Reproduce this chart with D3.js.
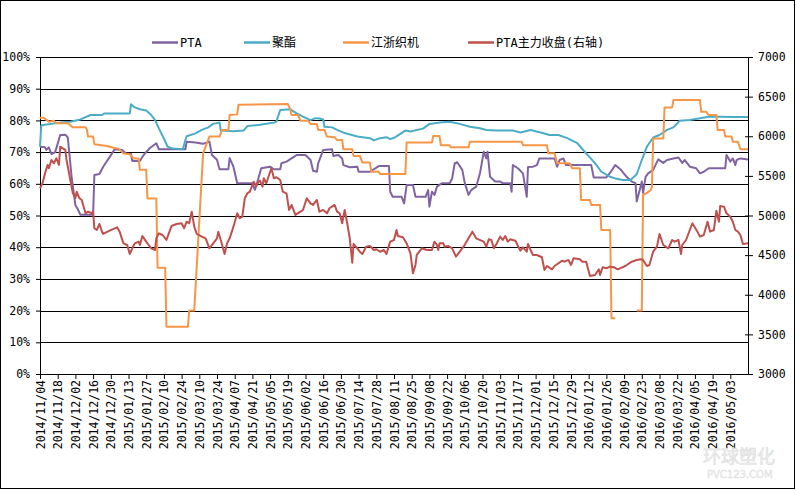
<!DOCTYPE html>
<html>
<head>
<meta charset="utf-8">
<script src="https://cdn.jsdelivr.net/npm/d3@7"></script>
<style>
body { margin: 0; background: #fff; }
svg text { font-family: "DejaVu Sans Mono", "Noto Sans CJK SC", monospace; font-size: 11.5px; fill: #000; }
</style>
</head>
<body>
<script>
var svgWidth = 796, svgHeight = 491;
var margin = {top: 57, right: 48, bottom: 117, left: 40};
var width = svgWidth - margin.left - margin.right,
    height = svgHeight - margin.top - margin.bottom;

var seriesNames = ["PTA", "聚酯", "江浙织机", "PTA主力收盘(右轴)"];
var seriesColors = ["#8064A2", "#4BACC6", "#F79646", "#C0504D"];

var tickLabels = ["2014/11/04","2014/11/18","2014/12/02","2014/12/16","2014/12/30","2015/01/13","2015/01/27","2015/02/10","2015/02/24","2015/03/10","2015/03/24","2015/04/07","2015/04/21","2015/05/05","2015/05/19","2015/06/02","2015/06/16","2015/06/30","2015/07/14","2015/07/28","2015/08/11","2015/08/25","2015/09/08","2015/09/22","2015/10/06","2015/10/20","2015/11/03","2015/11/17","2015/12/01","2015/12/15","2015/12/29","2016/01/12","2016/01/26","2016/02/09","2016/02/23","2016/03/08","2016/03/22","2016/04/05","2016/04/19","2016/05/03"];
var dateRange = ["2014/11/04", "2016/05/17"];
var pctTicks = [0,10,20,30,40,50,60,70,80,90,100];
var priceTicks = [3000,3500,4000,4500,5000,5500,6000,6500,7000];

// PTA (left axis, %)
var ptaData = [["2014-11-04",71.7],["2014-11-08",71.5],["2014-11-09",70.7],["2014-11-11",71.5],["2014-11-13",69.4],["2014-11-16",70.0],["2014-11-20",75.4],["2014-11-24",75.5],["2014-11-26",74.6],["2014-11-29",62.2],["2014-12-02",53.3],["2014-12-04",51.9],["2014-12-06",50.2],["2014-12-16",50.2],["2014-12-17",62.8],["2014-12-21",63.1],["2014-12-24",65.4],["2014-12-31",69.6],["2015-01-02",70.9],["2015-01-08",70.7],["2015-01-11",69.6],["2015-01-15",69.4],["2015-01-16",67.2],["2015-01-22",67.2],["2015-01-25",69.1],["2015-01-30",71.3],["2015-02-04",72.8],["2015-02-06",70.9],["2015-02-27",70.9],["2015-02-28",73.3],["2015-03-07",73.0],["2015-03-13",72.6],["2015-03-18",73.3],["2015-03-20",69.1],["2015-03-24",67.6],["2015-03-26",64.6],["2015-04-02",64.6],["2015-04-03",68.1],["2015-04-06",65.4],["2015-04-09",60.2],["2015-04-21",60.2],["2015-04-23",58.1],["2015-04-25",60.7],["2015-04-28",64.9],["2015-05-05",65.4],["2015-05-08",64.6],["2015-05-13",64.6],["2015-05-14",66.5],["2015-05-18",67.0],["2015-05-22",68.0],["2015-05-26",69.1],["2015-06-02",69.1],["2015-06-06",67.5],["2015-06-08",64.1],["2015-06-11",63.8],["2015-06-12",66.4],["2015-06-16",70.7],["2015-06-23",70.9],["2015-06-24",68.8],["2015-06-28",69.1],["2015-07-01",68.0],["2015-07-02",65.9],["2015-07-07",65.2],["2015-07-13",65.4],["2015-07-14",63.8],["2015-07-23",63.8],["2015-07-30",65.6],["2015-08-07",65.6],["2015-08-08",57.5],["2015-08-10",55.9],["2015-08-17",55.9],["2015-08-19",53.8],["2015-08-21",59.6],["2015-08-26",59.6],["2015-08-28",55.9],["2015-09-05",55.9],["2015-09-07",58.0],["2015-09-08",52.8],["2015-09-10",57.5],["2015-09-12",56.5],["2015-09-14",59.1],["2015-09-18",60.2],["2015-09-24",60.2],["2015-09-26",61.7],["2015-09-28",66.4],["2015-09-30",66.8],["2015-10-04",64.4],["2015-10-06",60.2],["2015-10-09",56.5],["2015-10-11",58.0],["2015-10-15",59.1],["2015-10-18",63.3],["2015-10-21",70.1],["2015-10-23",68.0],["2015-10-24",70.1],["2015-10-26",62.2],["2015-10-30",60.7],["2015-11-03",60.7],["2015-11-05",60.2],["2015-11-11",60.2],["2015-11-12",57.5],["2015-11-13",65.9],["2015-11-17",64.9],["2015-11-21",63.3],["2015-11-24",55.9],["2015-11-25",65.3],["2015-11-29",65.4],["2015-12-02",65.9],["2015-12-04",68.0],["2015-12-16",68.0],["2015-12-18",65.4],["2015-12-20",67.5],["2015-12-23",68.0],["2015-12-25",65.9],["2016-01-14",65.9],["2016-01-16",62.0],["2016-01-26",62.0],["2016-01-29",63.5],["2016-02-02",65.9],["2016-02-06",64.6],["2016-02-11",62.2],["2016-02-15",60.7],["2016-02-18",60.2],["2016-02-19",54.4],["2016-02-22",59.1],["2016-02-23",60.7],["2016-02-24",57.1],["2016-02-26",62.2],["2016-02-28",63.3],["2016-03-03",64.4],["2016-03-07",67.7],["2016-03-11",66.6],["2016-03-14",67.5],["2016-03-19",68.0],["2016-03-23",68.3],["2016-03-26",66.6],["2016-03-28",67.5],["2016-04-01",65.4],["2016-04-06",64.9],["2016-04-09",63.3],["2016-04-12",63.8],["2016-04-16",64.9],["2016-04-29",64.9],["2016-04-30",69.1],["2016-05-03",67.0],["2016-05-05",68.0],["2016-05-07",65.9],["2016-05-08",67.5],["2016-05-11",68.0],["2016-05-17",67.7]];

// 聚酯 (left axis, %)
var polyesterData = [["2014-11-04",71.7],["2014-11-05",78.5],["2014-11-20",79.3],["2014-11-28",79.6],["2014-12-06",80.3],["2014-12-14",81.7],["2014-12-23",81.7],["2014-12-25",82.2],["2015-01-14",82.2],["2015-01-15",85.1],["2015-01-18",84.1],["2015-01-22",83.5],["2015-01-27",83.1],["2015-01-31",81.7],["2015-02-03",80.1],["2015-02-06",77.5],["2015-02-10",74.3],["2015-02-13",71.7],["2015-02-17",71.1],["2015-02-25",70.9],["2015-02-27",73.8],["2015-02-28",75.0],["2015-03-07",75.9],["2015-03-12",77.0],["2015-03-17",77.8],["2015-03-21",78.9],["2015-03-26",79.3],["2015-03-27",76.8],["2015-04-06",76.6],["2015-04-14",76.8],["2015-04-17",78.2],["2015-04-27",78.6],["2015-05-08",79.3],["2015-05-10",79.6],["2015-05-13",83.3],["2015-05-21",83.5],["2015-05-26",82.2],["2015-05-31",81.2],["2015-06-06",80.1],["2015-06-10",80.7],["2015-06-13",80.6],["2015-06-16",80.3],["2015-06-17",78.0],["2015-06-23",77.8],["2015-06-27",77.0],["2015-07-03",76.0],["2015-07-13",74.9],["2015-07-23",74.4],["2015-07-26",73.7],["2015-07-31",74.4],["2015-08-05",74.7],["2015-08-08",74.1],["2015-08-12",74.7],["2015-08-20",76.8],["2015-08-24",76.5],["2015-08-29",77.0],["2015-09-03",77.4],["2015-09-08",78.9],["2015-09-16",79.3],["2015-09-24",79.6],["2015-10-02",78.9],["2015-10-10",78.0],["2015-10-18",77.5],["2015-10-23",77.0],["2015-10-31",76.8],["2015-11-13",76.8],["2015-11-19",76.2],["2015-11-27",77.0],["2015-12-05",76.2],["2015-12-12",75.4],["2015-12-19",75.4],["2015-12-26",74.4],["2016-01-03",72.8],["2016-01-10",69.6],["2016-01-17",66.5],["2016-01-22",63.8],["2016-01-29",62.2],["2016-02-02",61.7],["2016-02-08",61.2],["2016-02-14",61.2],["2016-02-19",63.0],["2016-02-23",67.5],["2016-02-27",71.7],["2016-03-03",74.6],["2016-03-08",75.4],["2016-03-14",77.0],["2016-03-19",77.8],["2016-03-24",79.9],["2016-04-01",80.1],["2016-04-09",80.7],["2016-04-17",81.2],["2016-05-05",81.1],["2016-05-17",81.1]];

// 江浙织机 (left axis, %), null = no data
var loomData = [["2014-11-04",80.8],["2014-11-07",80.8],["2014-11-11",79.6],["2014-11-15",79.9],["2014-11-17",79.1],["2014-11-26",79.1],["2014-11-30",77.8],["2014-12-10",77.8],["2014-12-11",77.2],["2014-12-12",74.9],["2014-12-16",74.9],["2014-12-17",72.5],["2014-12-27",71.9],["2015-01-02",71.3],["2015-01-05",71.1],["2015-01-09",69.6],["2015-01-14",69.3],["2015-01-17",68.0],["2015-01-21",68.0],["2015-01-22",64.4],["2015-01-27",64.4],["2015-01-28",55.4],["2015-02-04",55.4],["2015-02-05",33.5],["2015-02-11",33.5],["2015-02-12",14.9],["2015-03-01",14.9],["2015-03-02",20.0],["2015-03-06",20.0],["2015-03-13",69.6],["2015-03-18",74.9],["2015-03-26",74.9],["2015-03-28",77.0],["2015-04-02",77.0],["2015-04-03",81.7],["2015-04-09",81.9],["2015-04-10",84.9],["2015-05-19",85.2],["2015-05-21",83.5],["2015-05-22",81.7],["2015-05-27",81.7],["2015-05-29",79.9],["2015-06-04",79.9],["2015-06-06",78.9],["2015-06-11",78.9],["2015-06-12",77.0],["2015-06-17",77.0],["2015-06-19",74.9],["2015-06-25",74.7],["2015-06-27",73.8],["2015-07-01",73.8],["2015-07-02",70.9],["2015-07-09",70.9],["2015-07-10",68.8],["2015-07-15",68.8],["2015-07-17",66.7],["2015-07-23",66.7],["2015-07-24",63.8],["2015-07-30",63.8],["2015-07-31",63.1],["2015-08-20",63.1],["2015-08-21",73.0],["2015-09-10",73.0],["2015-09-11",75.1],["2015-09-16",75.1],["2015-09-17",72.2],["2015-09-24",72.2],["2015-09-25",71.5],["2015-10-09",71.5],["2015-10-10",73.3],["2015-11-20",73.3],["2015-11-21",72.2],["2015-12-10",72.2],["2015-12-11",69.6],["2015-12-16",69.6],["2015-12-18",66.5],["2015-12-28",66.5],["2015-12-30",64.9],["2016-01-05",64.9],["2016-01-06",54.9],["2016-01-13",54.9],["2016-01-14",53.3],["2016-01-21",53.3],["2016-01-22",45.4],["2016-01-29",45.4],["2016-01-30",17.6],["2016-02-02",17.6],["2016-02-10",null],["2016-02-19",20.0],["2016-02-23",20.0],["2016-02-24",56.5],["2016-02-27",57.1],["2016-03-01",58.0],["2016-03-02",59.1],["2016-03-03",74.3],["2016-03-11",74.3],["2016-03-12",84.1],["2016-03-18",84.1],["2016-03-19",86.4],["2016-04-09",86.4],["2016-04-10",82.7],["2016-04-14",82.7],["2016-04-16",81.7],["2016-04-22",81.7],["2016-04-23",77.0],["2016-04-28",77.0],["2016-04-29",74.9],["2016-05-04",74.9],["2016-05-05",73.3],["2016-05-09",73.3],["2016-05-11",70.9],["2016-05-17",70.9]];

// PTA主力收盘 (right axis, price)
var futuresData = [["2014-11-04",5344],["2014-11-06",5407],["2014-11-08",5533],["2014-11-10",5638],["2014-11-11",5596],["2014-11-13",5701],["2014-11-15",5659],["2014-11-17",5722],["2014-11-19",5638],["2014-11-20",5869],["2014-11-22",5848],["2014-11-24",5827],["2014-11-25",5701],["2014-11-28",5448],["2014-11-30",5280],["2014-12-02",5220],["2014-12-03",5301],["2014-12-05",5221],["2014-12-07",5196],["2014-12-10",5028],["2014-12-12",5048],["2014-12-15",5028],["2014-12-16",5048],["2014-12-17",4839],["2014-12-19",4817],["2014-12-21",4893],["2014-12-23",4796],["2014-12-24",4767],["2014-12-29",4809],["2015-01-04",4851],["2015-01-06",4796],["2015-01-09",4649],["2015-01-12",4628],["2015-01-14",4514],["2015-01-16",4586],["2015-01-18",4649],["2015-01-21",4670],["2015-01-22",4628],["2015-01-24",4741],["2015-01-27",4670],["2015-01-29",4628],["2015-01-31",4586],["2015-02-03",4565],["2015-02-04",4712],["2015-02-06",4775],["2015-02-09",4754],["2015-02-12",4691],["2015-02-16",4867],["2015-02-20",4893],["2015-02-24",4902],["2015-02-26",4839],["2015-02-28",4922],["2015-03-02",4902],["2015-03-04",5048],["2015-03-06",4859],["2015-03-08",4767],["2015-03-12",4733],["2015-03-15",4712],["2015-03-18",4586],["2015-03-21",4649],["2015-03-24",4712],["2015-03-25",4796],["2015-03-27",4691],["2015-03-30",4514],["2015-04-01",4649],["2015-04-03",4712],["2015-04-06",4859],["2015-04-09",5028],["2015-04-11",4965],["2015-04-13",4985],["2015-04-15",5217],["2015-04-17",5280],["2015-04-19",5301],["2015-04-22",5427],["2015-04-24",5373],["2015-04-26",5427],["2015-04-27",5440],["2015-04-29",5364],["2015-04-30",5470],["2015-05-02",5407],["2015-05-06",5596],["2015-05-08",5470],["2015-05-10",5482],["2015-05-13",5448],["2015-05-15",5301],["2015-05-18",5280],["2015-05-20",5070],["2015-05-22",5133],["2015-05-25",5007],["2015-05-29",5048],["2015-05-31",5070],["2015-06-03",5217],["2015-06-06",5154],["2015-06-08",5133],["2015-06-11",5196],["2015-06-13",5048],["2015-06-16",5070],["2015-06-19",5028],["2015-06-21",5091],["2015-06-25",5133],["2015-06-27",5048],["2015-06-29",5028],["2015-07-01",4902],["2015-07-03",5070],["2015-07-05",4902],["2015-07-07",4712],["2015-07-09",4405],["2015-07-10",4641],["2015-07-13",4586],["2015-07-15",4543],["2015-07-17",4514],["2015-07-20",4607],["2015-07-23",4615],["2015-07-26",4565],["2015-07-28",4574],["2015-07-31",4543],["2015-08-03",4565],["2015-08-05",4514],["2015-08-08",4670],["2015-08-11",4691],["2015-08-13",4817],["2015-08-14",4741],["2015-08-18",4725],["2015-08-21",4649],["2015-08-24",4523],["2015-08-26",4271],["2015-08-28",4376],["2015-08-29",4502],["2015-09-02",4586],["2015-09-06",4565],["2015-09-10",4565],["2015-09-12",4670],["2015-09-14",4628],["2015-09-15",4565],["2015-09-16",4649],["2015-09-19",4649],["2015-09-20",4607],["2015-09-23",4615],["2015-09-26",4586],["2015-09-29",4481],["2015-10-05",4607],["2015-10-12",4796],["2015-10-15",4712],["2015-10-21",4670],["2015-10-23",4607],["2015-10-25",4700],["2015-10-27",4691],["2015-10-29",4586],["2015-10-31",4641],["2015-11-03",4733],["2015-11-05",4691],["2015-11-07",4741],["2015-11-09",4670],["2015-11-11",4700],["2015-11-15",4682],["2015-11-19",4556],["2015-11-21",4599],["2015-11-24",4543],["2015-11-25",4641],["2015-11-27",4565],["2015-11-29",4502],["2015-12-02",4502],["2015-12-06",4473],["2015-12-08",4312],["2015-12-10",4363],["2015-12-14",4321],["2015-12-16",4363],["2015-12-22",4430],["2015-12-24",4417],["2015-12-27",4439],["2015-12-29",4376],["2015-12-31",4460],["2016-01-05",4448],["2016-01-07",4417],["2016-01-10",4417],["2016-01-13",4237],["2016-01-17",4249],["2016-01-20",4321],["2016-01-21",4249],["2016-01-23",4347],["2016-01-26",4334],["2016-01-29",4354],["2016-02-01",4347],["2016-02-04",4321],["2016-02-10",4363],["2016-02-15",4417],["2016-02-19",4439],["2016-02-22",4448],["2016-02-24",4439],["2016-02-27",4363],["2016-02-29",4376],["2016-03-03",4544],["2016-03-06",4607],["2016-03-08",4767],["2016-03-11",4628],["2016-03-15",4586],["2016-03-18",4691],["2016-03-20",4670],["2016-03-23",4691],["2016-03-25",4514],["2016-03-26",4628],["2016-03-29",4691],["2016-04-03",4902],["2016-04-07",4796],["2016-04-09",4733],["2016-04-12",4754],["2016-04-15",4922],["2016-04-17",4796],["2016-04-20",4817],["2016-04-22",5061],["2016-04-24",4922],["2016-04-25",5120],["2016-04-28",5111],["2016-04-30",5028],["2016-05-03",4985],["2016-05-05",4922],["2016-05-07",4817],["2016-05-09",4796],["2016-05-11",4754],["2016-05-13",4641],["2016-05-17",4649]];

var parseDay = d3.timeParse("%Y-%m-%d");
var parseTick = d3.timeParse("%Y/%m/%d");
var formatTick = d3.timeFormat("%Y/%m/%d");

var svg = d3.select("body").append("svg")
    .attr("width", svgWidth)
    .attr("height", svgHeight);

// outer frame
svg.append("rect")
    .attr("x", 0.5).attr("y", 0.5)
    .attr("width", svgWidth - 2).attr("height", svgHeight - 3)
    .attr("fill", "white").attr("stroke", "black");

var g = svg.append("g")
    .attr("transform", "translate(" + margin.left + "," + margin.top + ")");

var xScale = d3.scaleTime()
    .domain(dateRange.map(parseTick))
    .range([0, width]);
var yPct = d3.scaleLinear().domain([0, 100]).range([height, 0]);
var yPrice = d3.scaleLinear().domain([3000, 7000]).range([height, 0]);

// gridlines
g.append("g").selectAll("line")
    .data(pctTicks)
    .enter().append("line")
    .attr("x1", 0).attr("x2", width)
    .attr("y1", function(d){ return Math.round(yPct(d)) + 0.5; })
    .attr("y2", function(d){ return Math.round(yPct(d)) + 0.5; })
    .attr("stroke", "black");

// left axis
var leftAxis = g.append("g")
    .call(d3.axisLeft(yPct).tickValues(pctTicks)
        .tickFormat(function(d){ return d + "%"; })
        .tickSizeInner(4).tickSizeOuter(0).tickPadding(6));

// right axis
var rightAxis = g.append("g")
    .attr("transform", "translate(" + width + ",0)")
    .call(d3.axisRight(yPrice).tickValues(priceTicks)
        .tickFormat(d3.format("d"))
        .tickSizeInner(5).tickSizeOuter(0).tickPadding(5));
rightAxis.selectAll(".tick line").attr("x1", -3);

// bottom axis
var bottomAxis = g.append("g")
    .attr("transform", "translate(0," + height + ")")
    .call(d3.axisBottom(xScale).tickValues(tickLabels.map(parseTick))
        .tickFormat(formatTick).tickSizeInner(5).tickSizeOuter(0));
bottomAxis.selectAll("text")
    .attr("transform", "rotate(-90)")
    .attr("text-anchor", "end")
    .attr("x", -6).attr("y", 0).attr("dy", "0.35em");

[leftAxis, rightAxis, bottomAxis].forEach(function(a){
    a.attr("font-family", null).attr("font-size", null);
    a.selectAll("path, line").attr("stroke", "black");
});

// series lines
var pctLine = d3.line()
    .defined(function(d){ return d[1] !== null; })
    .x(function(d){ return xScale(parseDay(d[0])); })
    .y(function(d){ return yPct(d[1]); });
var priceLine = d3.line()
    .x(function(d){ return xScale(parseDay(d[0])); })
    .y(function(d){ return yPrice(d[1]); });

var allSeries = [ptaData, polyesterData, loomData, futuresData];
allSeries.forEach(function(data, i){
    g.append("path")
        .datum(data)
        .attr("fill", "none")
        .attr("stroke", seriesColors[i])
        .attr("stroke-width", 2)
        .attr("stroke-linejoin", "round")
        .attr("d", i === 3 ? priceLine : pctLine);
});

// legend
var legendX = [152, 244, 343, 468];
var legend = svg.append("g").selectAll("g")
    .data(seriesNames)
    .enter().append("g")
    .attr("transform", function(d, i){ return "translate(" + legendX[i] + ",42)"; });
legend.append("line")
    .attr("x1", 0).attr("x2", 26).attr("y1", 0.5).attr("y2", 0.5)
    .attr("stroke", function(d, i){ return seriesColors[i]; })
    .attr("stroke-width", 2.5);
legend.append("text")
    .attr("x", 28).attr("y", 4.5)
    .style("font-size", "12px")
    .text(function(d){ return d; });

// watermark
svg.append("text")
    .attr("x", 703).attr("y", 463)
    .style("font-family", "Noto Sans CJK SC").style("font-size", "18px")
    .style("fill", "#f0f0f0").style("stroke", "#dcdcdc").style("stroke-width", 0.6)
    .text("环球塑化");
svg.append("text")
    .attr("x", 707).attr("y", 478)
    .style("font-family", "DejaVu Sans").style("font-size", "10px")
    .style("fill", "#f0f0f0").style("stroke", "#dcdcdc").style("stroke-width", 0.4)
    .text("PVC123.COM");
</script>
</body>
</html>
